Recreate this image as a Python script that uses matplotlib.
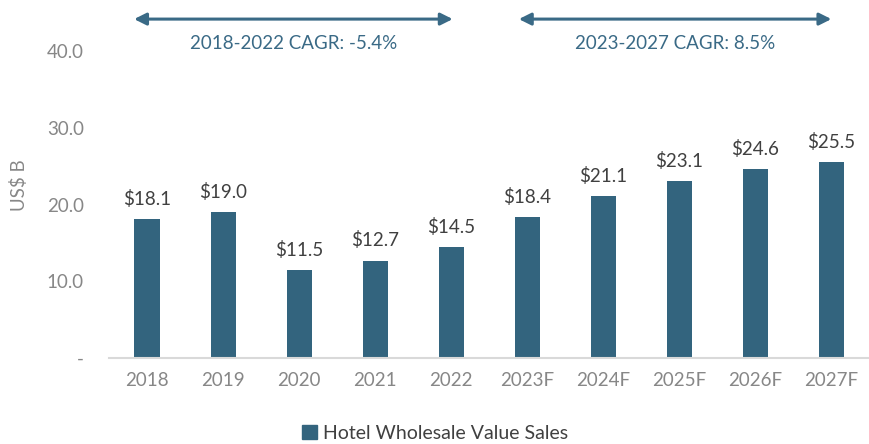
import matplotlib
matplotlib.use("Agg")
import matplotlib.pyplot as plt
from matplotlib.patches import Patch

categories = ["2018", "2019", "2020", "2021", "2022", "2023F", "2024F", "2025F", "2026F", "2027F"]
values = [18.1, 19.0, 11.5, 12.7, 14.5, 18.4, 21.1, 23.1, 24.6, 25.5]
yticks = [0, 10, 20, 30, 40]
ytick_labels = ["-", "10.0", "20.0", "30.0", "40.0"]
cagr_labels = ["2018-2022 CAGR: -5.4%", "2023-2027 CAGR: 8.5%"]
series_name = "Hotel Wholesale Value Sales"

bar_color = "#33647E"
text_blue = "#3A6A86"
grey = "#878787"
dark = "#404040"

plt.rcParams['font.family'] = ['Lato', 'DejaVu Sans']
fs = 13.5

fig = plt.figure(figsize=(8.7, 4.44), dpi=100)
ax = fig.add_axes([0.1253, 0.1937, 0.874, 0.6914])

x = list(range(len(categories)))
bars = ax.bar(x, values, width=0.33, color=bar_color)
for xi, v in zip(x, values):
    ax.annotate(f"${v:.1f}", (xi, v), xytext=(0, 8), textcoords="offset points",
                ha="center", va="bottom", fontsize=fs, color=dark)

ax.set_xlim(-0.5, len(categories) - 0.5)
ax.set_ylim(0, 40)
ax.set_yticks(yticks)
ax.set_yticklabels(ytick_labels)
ax.set_xticks(x)
ax.set_xticklabels(categories)
ax.tick_params(axis='both', length=0, labelsize=fs, labelcolor=grey)
ax.tick_params(axis='y', pad=18)
ax.tick_params(axis='x', pad=10)
for s in ["top", "right", "left"]:
    ax.spines[s].set_visible(False)
ax.spines["bottom"].set_color("#D9D9D9")
ax.spines["bottom"].set_linewidth(1.5)

fig.text(19 / 870, 1 - 185 / 444, "US$ B", rotation=90, ha="center", va="center",
         fontsize=fs, color=grey)

trans = ax.get_xaxis_transform()
arrow_spans = [(-0.17, 4.02), (4.89, 9.0)]
for (x0, x1), lab in zip(arrow_spans, cagr_labels):
    ax.annotate("", xy=(x1, 1.104), xytext=(x0, 1.104), xycoords=trans, textcoords=trans,
                arrowprops=dict(arrowstyle="<|-|>", color=text_blue, lw=2.2,
                                mutation_scale=18, shrinkA=0, shrinkB=0),
                annotation_clip=False)
    ax.text((x0 + x1) / 2, 1.026, lab, transform=trans, ha="center", va="center",
            fontsize=fs, color=text_blue, clip_on=False)

fig.legend(handles=[Patch(color=bar_color, label=series_name)], loc="lower center",
           bbox_to_anchor=(0.5, -0.035), frameon=False, fontsize=14,
           handlelength=0.75, handleheight=0.75, handletextpad=0.3, labelcolor=dark)

fig.savefig("out.png", dpi=100)
